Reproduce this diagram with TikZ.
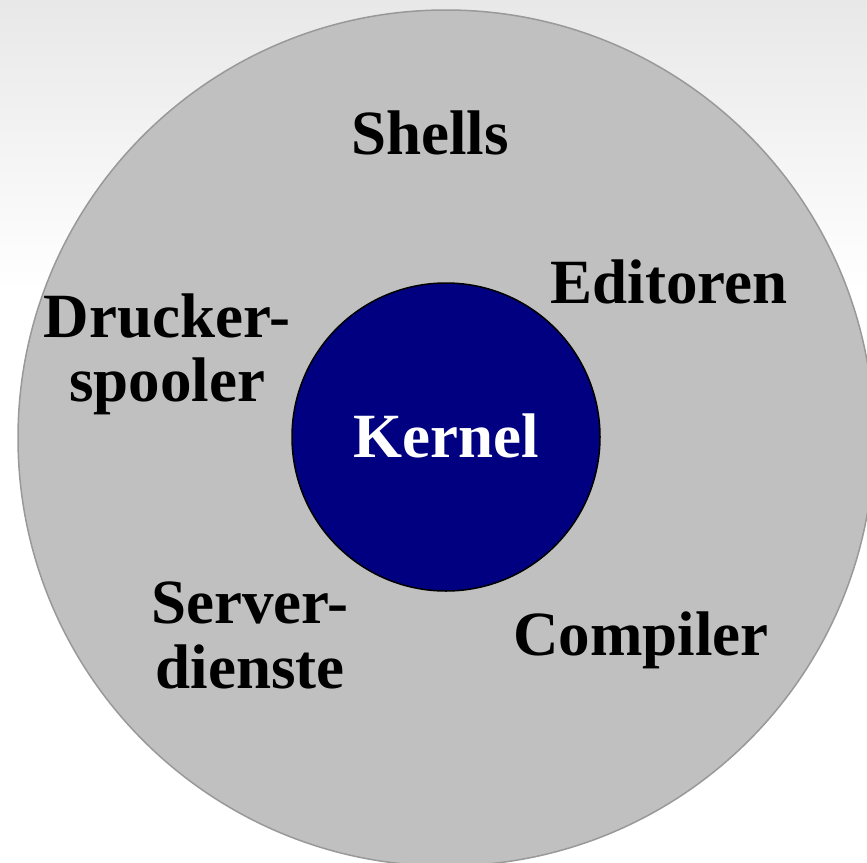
\documentclass[tikz,border=0pt]{standalone}
\usepackage{fontspec}
\setmainfont{Liberation Serif}
\begin{document}
\begin{tikzpicture}[x=1pt,y=-1pt,
  lbl/.style={font=\bfseries\fontsize{63}{63.5}\selectfont, text=black, inner sep=0pt, anchor=base, align=center},
  outer/.style={circle, fill=outergray, draw=outeredge, line width=1.5pt, minimum size=856pt, inner sep=0pt},
  kern/.style={circle, fill=kernblue, draw=black, line width=1.5pt, minimum size=308pt, inner sep=0pt}]
\definecolor{outergray}{HTML}{C0C0C0}
\definecolor{outeredge}{HTML}{999999}
\definecolor{kernblue}{HTML}{000080}
\definecolor{bgtop}{HTML}{E8E8E8}
\useasboundingbox (0,0) rectangle (867,862);
\clip (0,0) rectangle (867,862);
\fill[white] (0,0) rectangle (867,862);
\shade[top color=bgtop, bottom color=white] (0,0) rectangle (867,290);
\node[outer] (os) at (446,438) {};
\node[kern] (kernel) at (446,437) {};
\node[lbl, text=white] (kt) at (446,457) {Kernel};
\node[lbl] (shells) at (430,154) {Shells};
\node[lbl] (editoren) at (669,303) {Editoren};
\node[lbl] (drucker) at (167,401) {Drucker-\\spooler};
\node[lbl, font=\bfseries\fontsize{63}{64.5}\selectfont] (server) at (250,688) {Server-\\dienste};
\node[lbl] (compiler) at (641,655) {Compiler};
\end{tikzpicture}
\end{document}
